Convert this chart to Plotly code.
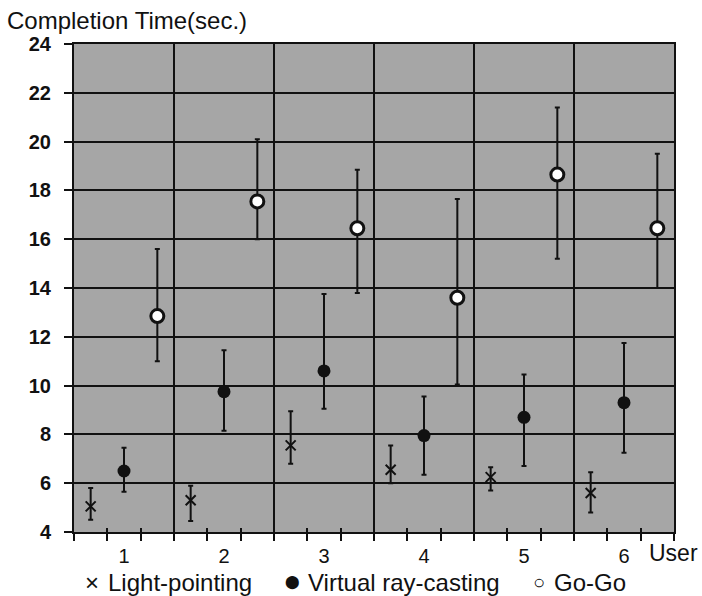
import plotly.graph_objects as go

# Mean completion time and error range (sec.) per user
users = [1, 2, 3, 4, 5, 6]
user_labels = ["1", "2", "3", "4", "5", "6"]

light_mean = [5.05, 5.3, 7.55, 6.55, 6.25, 5.6]
light_hi = [5.8, 5.9, 8.95, 7.55, 6.65, 6.45]
light_lo = [4.5, 4.45, 6.8, 6.0, 5.7, 4.8]

ray_mean = [6.5, 9.75, 10.6, 7.95, 8.7, 9.3]
ray_hi = [7.45, 11.45, 13.75, 9.55, 10.45, 11.75]
ray_lo = [5.65, 8.15, 9.05, 6.35, 6.7, 7.25]

gogo_mean = [12.85, 17.55, 16.45, 13.6, 18.65, 16.45]
gogo_hi = [15.6, 20.1, 18.85, 17.65, 21.4, 19.5]
gogo_lo = [11.0, 16.0, 13.8, 10.05, 15.2, 14.0]

y_ticks = [4, 6, 8, 10, 12, 14, 16, 18, 20, 22, 24]

FONT = "Arial, 'Liberation Sans', sans-serif"
INK = "#111111"

# each user occupies one unit; the three techniques sit at 1/6, 1/2, 5/6 of it
offsets = {"light": -1 / 3, "ray": 0.0, "gogo": 1 / 3}
boundaries = [u - 0.5 for u in users] + [users[-1] + 0.5]
minor_marks = [u + d for u in users for d in (-1 / 6, 1 / 6)]


def err(mean, hi, lo):
    return dict(
        type="data",
        symmetric=False,
        array=[h - m for h, m in zip(hi, mean)],
        arrayminus=[m - l for m, l in zip(mean, lo)],
        color=INK,
        thickness=2,
        width=2.5,
    )


fig = go.Figure()

fig.add_trace(go.Scatter(
    x=[u + offsets["light"] for u in users], y=light_mean,
    mode="markers", name="Light-pointing",
    marker=dict(symbol="x-thin", size=10, line=dict(color=INK, width=2)),
    error_y=err(light_mean, light_hi, light_lo),
))
fig.add_trace(go.Scatter(
    x=[u + offsets["ray"] for u in users], y=ray_mean,
    mode="markers", name="Virtual ray-casting",
    marker=dict(symbol="circle", size=13, color=INK, line=dict(width=0)),
    error_y=err(ray_mean, ray_hi, ray_lo),
))
fig.add_trace(go.Scatter(
    x=[u + offsets["gogo"] for u in users], y=gogo_mean,
    mode="markers", name="Go-Go",
    marker=dict(symbol="circle", size=13, color="white", line=dict(color=INK, width=3)),
    error_y=err(gogo_mean, gogo_hi, gogo_lo),
))

x_range = [boundaries[0], boundaries[-1]]

fig.update_layout(
    width=702, height=596,
    margin=dict(l=74, r=28, t=44, b=64),
    paper_bgcolor="white",
    plot_bgcolor="#a6a6a6",
    showlegend=False,
    font=dict(family=FONT, color=INK),
    title=dict(
        text="Completion Time(sec.)",
        x=7 / 702, xanchor="left", xref="container",
        y=1 - 21 / 596, yanchor="middle", yref="container",
        font=dict(size=24, family=FONT, color=INK),
    ),
    # user labels along the bottom
    xaxis=dict(
        range=x_range, tickmode="array", tickvals=users, ticktext=user_labels,
        ticks="", showgrid=False, zeroline=False,
        showline=True, mirror=True, linecolor=INK, linewidth=2,
        tickfont=dict(size=20, family=FONT, color=INK),
        ticklabelstandoff=5,
        minor=dict(tickmode="array", tickvals=minor_marks, ticks="outside",
                   ticklen=7, tickwidth=2, tickcolor=INK, showgrid=False),
    ),
    # user boundaries: vertical grid lines with longer ticks
    xaxis2=dict(
        range=x_range, overlaying="x", side="bottom", matches="x",
        tickmode="array", tickvals=boundaries, showticklabels=False,
        ticks="outside", ticklen=8, tickwidth=2, tickcolor=INK,
        showgrid=True, gridcolor=INK, gridwidth=2, zeroline=False,
        minor=dict(tickmode="array", tickvals=minor_marks, ticks="inside",
                   ticklen=4, tickwidth=2, tickcolor=INK, showgrid=False),
    ),
    yaxis=dict(
        range=[4, 24], tickmode="array", tickvals=y_ticks,
        ticks="outside", ticklen=8, tickwidth=2, tickcolor=INK,
        showgrid=True, gridcolor=INK, gridwidth=2, zeroline=False,
        showline=True, mirror=True, linecolor=INK, linewidth=2,
        tickfont=dict(size=20, family=FONT, color=INK, weight="bold"),
        ticklabelstandoff=9,
    ),
)

# keep the boundary axis active by giving it an invisible anchor trace
fig.add_trace(go.Scatter(x=x_range, y=[None, None], xaxis="x2", mode="markers",
                         showlegend=False, hoverinfo="skip"))

# axis caption below the plot
fig.add_annotation(text="User", xref="paper", yref="paper",
                   x=(647 - 74) / 600, y=-21 / 488, xanchor="left", yanchor="middle",
                   showarrow=False, font=dict(size=23, family=FONT, color=INK))

# key: glyph + label for each technique
key_y = -50 / 488
key_items = [
    ("×", 24, FONT, 92, "Light-pointing", 106),
    ("⬤", 13, "'DejaVu Sans', sans-serif", 292, "Virtual ray-casting", 306),
    ("○", 20, FONT, 539, "Go-Go", 552),
]
for glyph, gsize, gfont, gx, label, tx in key_items:
    fig.add_annotation(text=glyph, xref="paper", yref="paper",
                       x=(gx - 74) / 600, y=key_y, xanchor="center", yanchor="middle",
                       showarrow=False, font=dict(size=gsize, family=gfont, color=INK))
    fig.add_annotation(text=label, xref="paper", yref="paper",
                       x=(tx - 74) / 600, y=key_y, xanchor="left", yanchor="middle",
                       showarrow=False, font=dict(size=24, family=FONT, color=INK))

fig.write_html("out.html")
